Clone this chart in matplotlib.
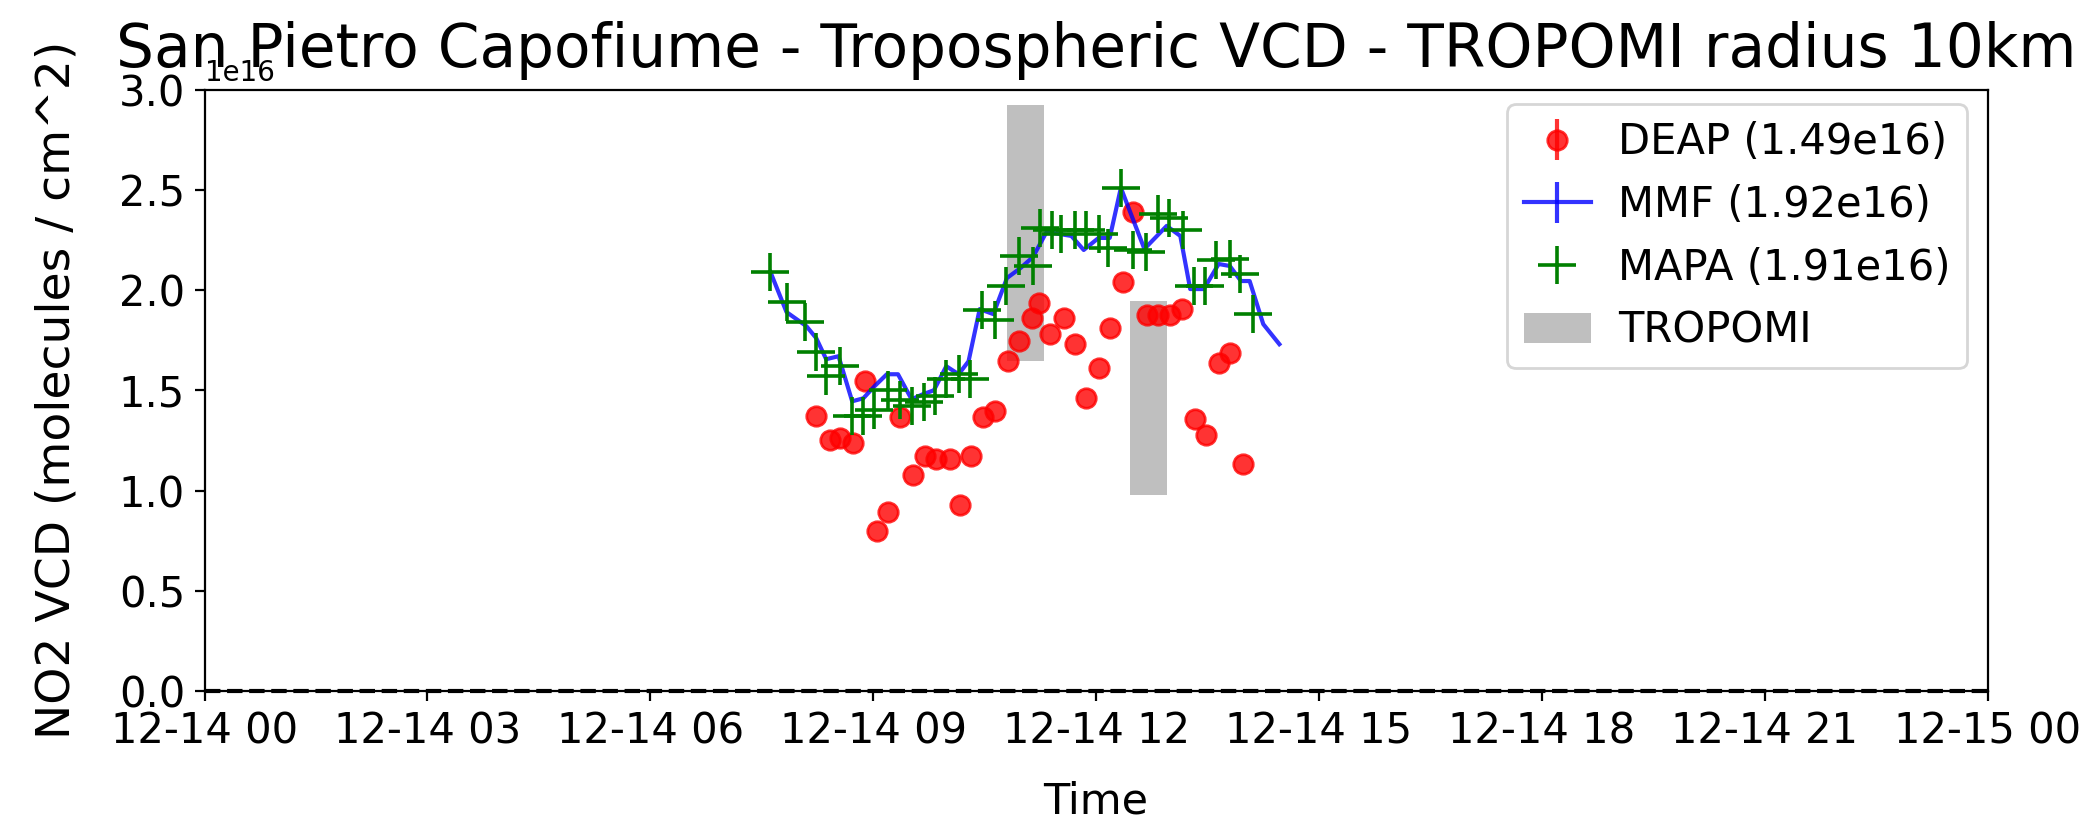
import matplotlib
matplotlib.use('Agg')
import matplotlib.pyplot as plt
import matplotlib.dates as mdates
import pandas as pd

day = "2020-12-14 "

# DEAP retrievals (1e16 molecules/cm^2)
deap_time = ["08:14", "08:25", "08:33", "08:44", "08:53", "09:03", "09:12", "09:22",
             "09:32", "09:42", "09:51", "10:02", "10:10", "10:19", "10:29", "10:38",
             "10:49", "10:58", "11:08", "11:14", "11:23", "11:34", "11:43", "11:52",
             "12:02", "12:11", "12:22", "12:30", "12:41", "12:50", "13:00", "13:09",
             "13:20", "13:29", "13:39", "13:48", "13:59"]
deap_vcd = [1.37, 1.25, 1.26, 1.235, 1.546, 0.796, 0.891, 1.368,
            1.076, 1.171, 1.158, 1.158, 0.930, 1.171, 1.368, 1.396,
            1.648, 1.746, 1.863, 1.935, 1.783, 1.863, 1.730, 1.463,
            1.613, 1.813, 2.038, 2.388, 1.875, 1.875, 1.875, 1.905,
            1.355, 1.275, 1.638, 1.688, 1.130]

# MMF
mmf_time = ["07:37", "07:50", "08:06", "08:14", "08:22", "08:32", "08:43", "08:52",
            "09:01", "09:11", "09:20", "09:31", "09:40", "09:49", "09:59", "10:09",
            "10:17", "10:26", "10:37", "10:48", "10:59", "11:09", "11:20", "11:40",
            "11:50", "12:02", "12:11", "12:20", "12:39", "12:57", "13:08", "13:16",
            "13:27", "13:39", "13:48", "13:57", "14:04", "14:15", "14:28"]
mmf_vcd = [2.09, 1.89, 1.82, 1.76, 1.655, 1.67, 1.445, 1.46,
           1.52, 1.58, 1.58, 1.455, 1.48, 1.50, 1.62, 1.58,
           1.645, 1.905, 1.88, 2.06, 2.11, 2.165, 2.29, 2.27,
           2.20, 2.26, 2.26, 2.51, 2.205, 2.32, 2.27, 2.005,
           2.005, 2.13, 2.12, 2.045, 2.045, 1.83, 1.73]

# MAPA
mapa_time = ["07:37", "07:50", "08:05", "08:14", "08:22", "08:33", "08:43", "08:52",
             "09:01", "09:12", "09:22", "09:31", "09:41", "09:50", "09:59", "10:09",
             "10:18", "10:28", "10:38", "10:47", "10:58", "11:09", "11:15", "11:24",
             "11:32", "11:43", "11:52", "12:02", "12:10", "12:20", "12:30", "12:40",
             "12:50", "12:59", "13:10", "13:19", "13:28", "13:37", "13:48", "13:56",
             "14:07"]
mapa_vcd = [2.09, 1.94, 1.84, 1.69, 1.57, 1.62, 1.37, 1.37,
            1.40, 1.50, 1.45, 1.42, 1.44, 1.47, 1.555, 1.58,
            1.555, 1.90, 1.85, 2.02, 2.17, 2.12, 2.31, 2.30,
            2.28, 2.30, 2.30, 2.28, 2.21, 2.51, 2.20, 2.19,
            2.38, 2.36, 2.30, 2.02, 2.02, 2.15, 2.155, 2.08,
            1.88]

# TROPOMI overpasses: mean and std
tropomi_time = ["11:03", "12:42"]
tropomi_mean = [2.285, 1.461]
tropomi_std = [0.64, 0.485]

def to_dt(times):
    return pd.to_datetime([day + t for t in times])

def scale(vals):
    return [v * 1e16 for v in vals]

fig, ax = plt.subplots(figsize=(10.48, 4.11), dpi=200)
plt.subplots_adjust(left=0.0976, right=0.9483, top=0.8910, bottom=0.1594)

t_mean = scale(tropomi_mean)
t_std = scale(tropomi_std)
trop = ax.bar(to_dt(tropomi_time), [2 * s for s in t_std],
              bottom=[m - s for m, s in zip(t_mean, t_std)],
              width=1 / 48, color='gray', alpha=0.5, label='TROPOMI', zorder=1)

deap = ax.errorbar(to_dt(deap_time), scale(deap_vcd), yerr=0, fmt='o', color='r',
                   alpha=0.8, markersize=7, label='DEAP (1.49e16)', zorder=2)
mmf = ax.errorbar(to_dt(mmf_time), scale(mmf_vcd), yerr=0, fmt='-', color='b',
                  alpha=0.8, label='MMF (1.92e16)', zorder=3)
mapa, = ax.plot(to_dt(mapa_time), scale(mapa_vcd), '+', color='g', markersize=14,
                markeredgewidth=1.3, label='MAPA (1.91e16)', zorder=4)

ax.axhline(0, color='k', linestyle='--', zorder=3, clip_on=False)

ax.set_xlim(pd.Timestamp(day + "00:00"), pd.Timestamp("2020-12-15 00:00"))
ax.set_ylim(0, 3e16)
ax.xaxis.set_major_locator(mdates.HourLocator(interval=3))
ax.xaxis.set_major_formatter(mdates.DateFormatter('%m-%d %H'))
ax.tick_params(labelsize=15)

ax.set_title("San Pietro Capofiume - Tropospheric VCD - TROPOMI radius 10km",
             fontsize=21.5, y=1.0, pad=8)
ax.set_xlabel("Time", fontsize=15.5, labelpad=10)
ax.set_ylabel("NO2 VCD (molecules / cm^2)", fontsize=17, labelpad=14)
ax.legend(handles=[deap, mmf, mapa, trop], loc='upper right', fontsize=15,
          bbox_to_anchor=(1, 1.01), handlelength=1.6, handletextpad=0.65)

plt.savefig("out.png", dpi=200)
